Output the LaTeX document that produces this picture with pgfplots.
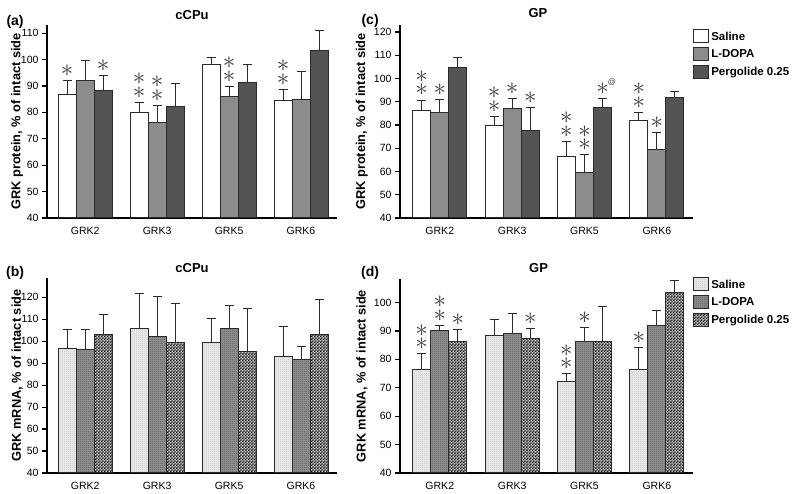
\documentclass[border=0pt]{standalone}
\usepackage{fontspec}
\setmainfont{Liberation Sans}
\usepackage{pgfplots}
\pgfplotsset{compat=1.18}
\usetikzlibrary{patterns}

\definecolor{ldopa}{HTML}{8C8C8C}
\definecolor{pergo}{HTML}{545454}
\definecolor{edge}{HTML}{2A2A2A}
\definecolor{stargray}{HTML}{3C3C3C}
\definecolor{salpat}{HTML}{E8E8E8}

% fine checker and stipple for the mRNA panels
\pgfdeclarepatternformonly{finecheck}{\pgfpointorigin}{\pgfqpoint{3.2pt}{3.2pt}}{\pgfqpoint{3.2pt}{3.2pt}}{%
  \pgfpathrectangle{\pgfpointorigin}{\pgfqpoint{1.6pt}{1.6pt}}%
  \pgfpathrectangle{\pgfqpoint{1.6pt}{1.6pt}}{\pgfqpoint{1.6pt}{1.6pt}}%
  \pgfusepath{fill}}
\pgfdeclarepatternformonly{finedots}{\pgfpointorigin}{\pgfqpoint{2pt}{2pt}}{\pgfqpoint{2pt}{2pt}}{%
  \pgfpathrectangle{\pgfpointorigin}{\pgfqpoint{0.8pt}{0.8pt}}%
  \pgfpathrectangle{\pgfqpoint{1pt}{1pt}}{\pgfqpoint{0.8pt}{0.8pt}}%
  \pgfusepath{fill}}

% significance marks
\protected\def\onestar{$\ast$}
\protected\def\twostar{\vbox{\offinterlineskip\hbox{$\ast$}\kern2pt\hbox{$\ast$}}}
\protected\def\starat{$\ast$\rlap{\kern-1pt\raisebox{10pt}{\fontsize{8}{8}\selectfont @}}}

\pgfplotsset{
  panel/.style={
    scale only axis,
    axis x line*=bottom, axis y line*=left,
    axis line style={line width=1.4pt, black},
    xmin=0.47, xmax=4.5, ymin=40, ytick distance=10,
    xtick={1,2,3,4}, xticklabels={GRK2,GRK3,GRK5,GRK6},
    xtick style={draw=none},
    tick align=outside, major tick length=5pt,
    ytick style={line width=1.2pt, black},
    tick label style={font=\fontsize{10.5}{12}\selectfont},
    xticklabel style={yshift=-1pt},
    /pgf/number format/assume math mode=true,
    ylabel style={font=\bfseries\fontsize{12.8}{14}\selectfont, anchor=center},
    title style={font=\bfseries\fontsize{13}{15}\selectfont, anchor=center},
    clip=false,
    legend style={draw=none, fill=none, anchor=north west,
      font=\bfseries\fontsize{11.5}{13}\selectfont, row sep=3.5pt},
    legend cell align=left,
  },
  bar/.style={ybar, bar width=0.25, bar shift=0pt, draw=edge, line width=1pt,
    error bars/y dir=plus, error bars/y explicit,
    error bars/error bar style={line width=1pt, edge},
    error bars/error mark options={rotate=90, mark size=4.5pt, line width=1pt, edge},
    legend image code/.code={\draw[##1] (0pt,-6pt) rectangle (15pt,7pt);}},
  stars/.style={only marks, mark=none, forget plot,
    point meta=explicit symbolic, nodes near coords,
    every node near coord/.append style={anchor=south, inner sep=0pt, yshift=4pt,
      text=stargray, font=\fontsize{23}{23}\selectfont}},
  sal/.style={bar, fill=white},
  ldo/.style={bar, fill=ldopa},
  per/.style={bar, fill=pergo},
  salp/.style={bar, fill=salpat, postaction={pattern=finedots, pattern color=gray!40}},
  ldop/.style={bar, fill=ldopa, postaction={pattern=finedots, pattern color=black!60}},
  perp/.style={bar, fill=gray!45, postaction={pattern=finecheck, pattern color=black}},
}

\begin{document}
\begin{tikzpicture}
\useasboundingbox (0,0) rectangle (800pt,494pt);

% (a) cCPu protein; bars at group-0.25, group, group+0.25
\begin{axis}[panel, at={(47pt,276pt)}, anchor=south west,
  width=290pt, height=193pt, ymax=113.1,
  ylabel={GRK protein, \% of intact side},
  ylabel style={at={(axis description cs:-0.103,0.5)}},
  title={cCPu}, title style={at={(axis description cs:0.5,1.02)}}]
\addplot[sal] coordinates {(0.75,86.9) +- (0,5.2) (1.75,79.8) +- (0,4.0) (2.75,98.1) +- (0,2.7) (3.75,84.5) +- (0,4.2)};
\addplot[ldo] coordinates {(1,92.1) +- (0,7.5) (2,76.3) +- (0,6.3) (3,86.0) +- (0,3.9) (4,85.0) +- (0,10.6)};
\addplot[per] coordinates {(1.25,88.2) +- (0,5.8) (2.25,82.2) +- (0,8.6) (3.25,91.5) +- (0,6.5) (4.25,103.3) +- (0,7.6)};
\addplot[stars] coordinates {(0.75,92.1) [\onestar] (1.25,94.0) [\onestar]
  (1.75,83.8) [\twostar] (2,82.6) [\twostar] (3,89.9) [\twostar] (3.75,88.7) [\twostar]};
\node[font=\bfseries\fontsize{14}{16}\selectfont] at (axis description cs:-0.11,1.017) {(a)};
\end{axis}

% (c) GP protein
\begin{axis}[panel, at={(400pt,276pt)}, anchor=south west,
  width=293pt, height=193pt, xmin=0.45, ymax=123,
  ylabel={GRK protein, \% of intact side},
  ylabel style={at={(axis description cs:-0.13,0.5)}},
  title={GP}, title style={at={(axis description cs:0.471,1.03)}},
  legend style={at={(axis description cs:0.99,0.99)}}]
\addplot[sal] coordinates {(0.75,86.1) +- (0,4.6) (1.75,79.9) +- (0,3.8) (2.75,66.5) +- (0,6.5) (3.75,81.8) +- (0,3.6)};
\addplot[ldo] coordinates {(1,85.4) +- (0,5.6) (2,87.1) +- (0,4.3) (3,59.5) +- (0,7.6) (4,69.4) +- (0,7.3)};
\addplot[per] coordinates {(1.25,104.6) +- (0,4.6) (2.25,77.8) +- (0,9.8) (3.25,87.6) +- (0,3.8) (4.25,91.9) +- (0,2.6)};
\addplot[stars] coordinates {(0.75,90.7) [\twostar] (1,91.0) [\onestar]
  (1.75,83.7) [\twostar] (2,91.4) [\onestar] (2.25,87.6) [\onestar]
  (2.75,73.0) [\twostar] (3,67.1) [\twostar] (3.25,91.4) [\starat]
  (3.75,85.4) [\twostar] (4,76.7) [\onestar]};
\legend{Saline, L-DOPA, Pergolide 0.25}
\node[font=\bfseries\fontsize{14}{16}\selectfont] at (axis description cs:-0.102,1.022) {(c)};
\end{axis}

% (b) cCPu mRNA
\begin{axis}[panel, at={(47pt,21pt)}, anchor=south west,
  width=290pt, height=195pt, ymax=128.8,
  ylabel={GRK mRNA, \% of intact side},
  ylabel style={at={(axis description cs:-0.103,0.5)}},
  title={cCPu}, title style={at={(axis description cs:0.5,1.021)}}]
\addplot[salp] coordinates {(0.75,96.7) +- (0,8.7) (1.75,105.9) +- (0,15.9) (2.75,99.6) +- (0,10.8) (3.75,93.2) +- (0,13.4)};
\addplot[ldop] coordinates {(1,96.3) +- (0,9.1) (2,102.1) +- (0,18.5) (3,105.9) +- (0,10.6) (4,91.7) +- (0,5.8)};
\addplot[perp] coordinates {(1.25,103.1) +- (0,9.3) (2.25,99.2) +- (0,18.1) (3.25,95.2) +- (0,19.8) (4.25,103.1) +- (0,16.1)};
\node[font=\bfseries\fontsize{14}{16}\selectfont] at (axis description cs:-0.11,1.026) {(b)};
\end{axis}

% (d) GP mRNA
\begin{axis}[panel, at={(400pt,21pt)}, anchor=south west,
  width=293pt, height=194pt, xmin=0.45, ymax=108.3,
  ylabel={GRK mRNA, \% of intact side},
  ylabel style={at={(axis description cs:-0.13,0.5)}},
  title={GP}, title style={at={(axis description cs:0.473,1.027)}},
  legend style={at={(axis description cs:0.99,1.02)}}]
\addplot[salp] coordinates {(0.75,76.6) +- (0,5.3) (1.75,88.5) +- (0,5.4) (2.75,72.3) +- (0,2.6) (3.75,76.6) +- (0,7.5)};
\addplot[ldop] coordinates {(1,90.1) +- (0,1.9) (2,89.1) +- (0,7.2) (3,86.4) +- (0,4.7) (4,91.8) +- (0,5.3)};
\addplot[perp] coordinates {(1.25,86.2) +- (0,4.2) (2.25,87.4) +- (0,3.5) (3.25,86.2) +- (0,12.5) (4.25,103.7) +- (0,4.0)};
\addplot[stars] coordinates {(0.75,81.9) [\twostar] (1,92.0) [\twostar] (1.25,90.4) [\onestar]
  (2.25,90.9) [\onestar] (2.75,74.9) [\twostar] (3,91.1) [\onestar] (3.75,84.1) [\onestar]};
\legend{Saline, L-DOPA, Pergolide 0.25}
\node[font=\bfseries\fontsize{14}{16}\selectfont] at (axis description cs:-0.102,1.032) {(d)};
\end{axis}
\end{tikzpicture}
\end{document}
